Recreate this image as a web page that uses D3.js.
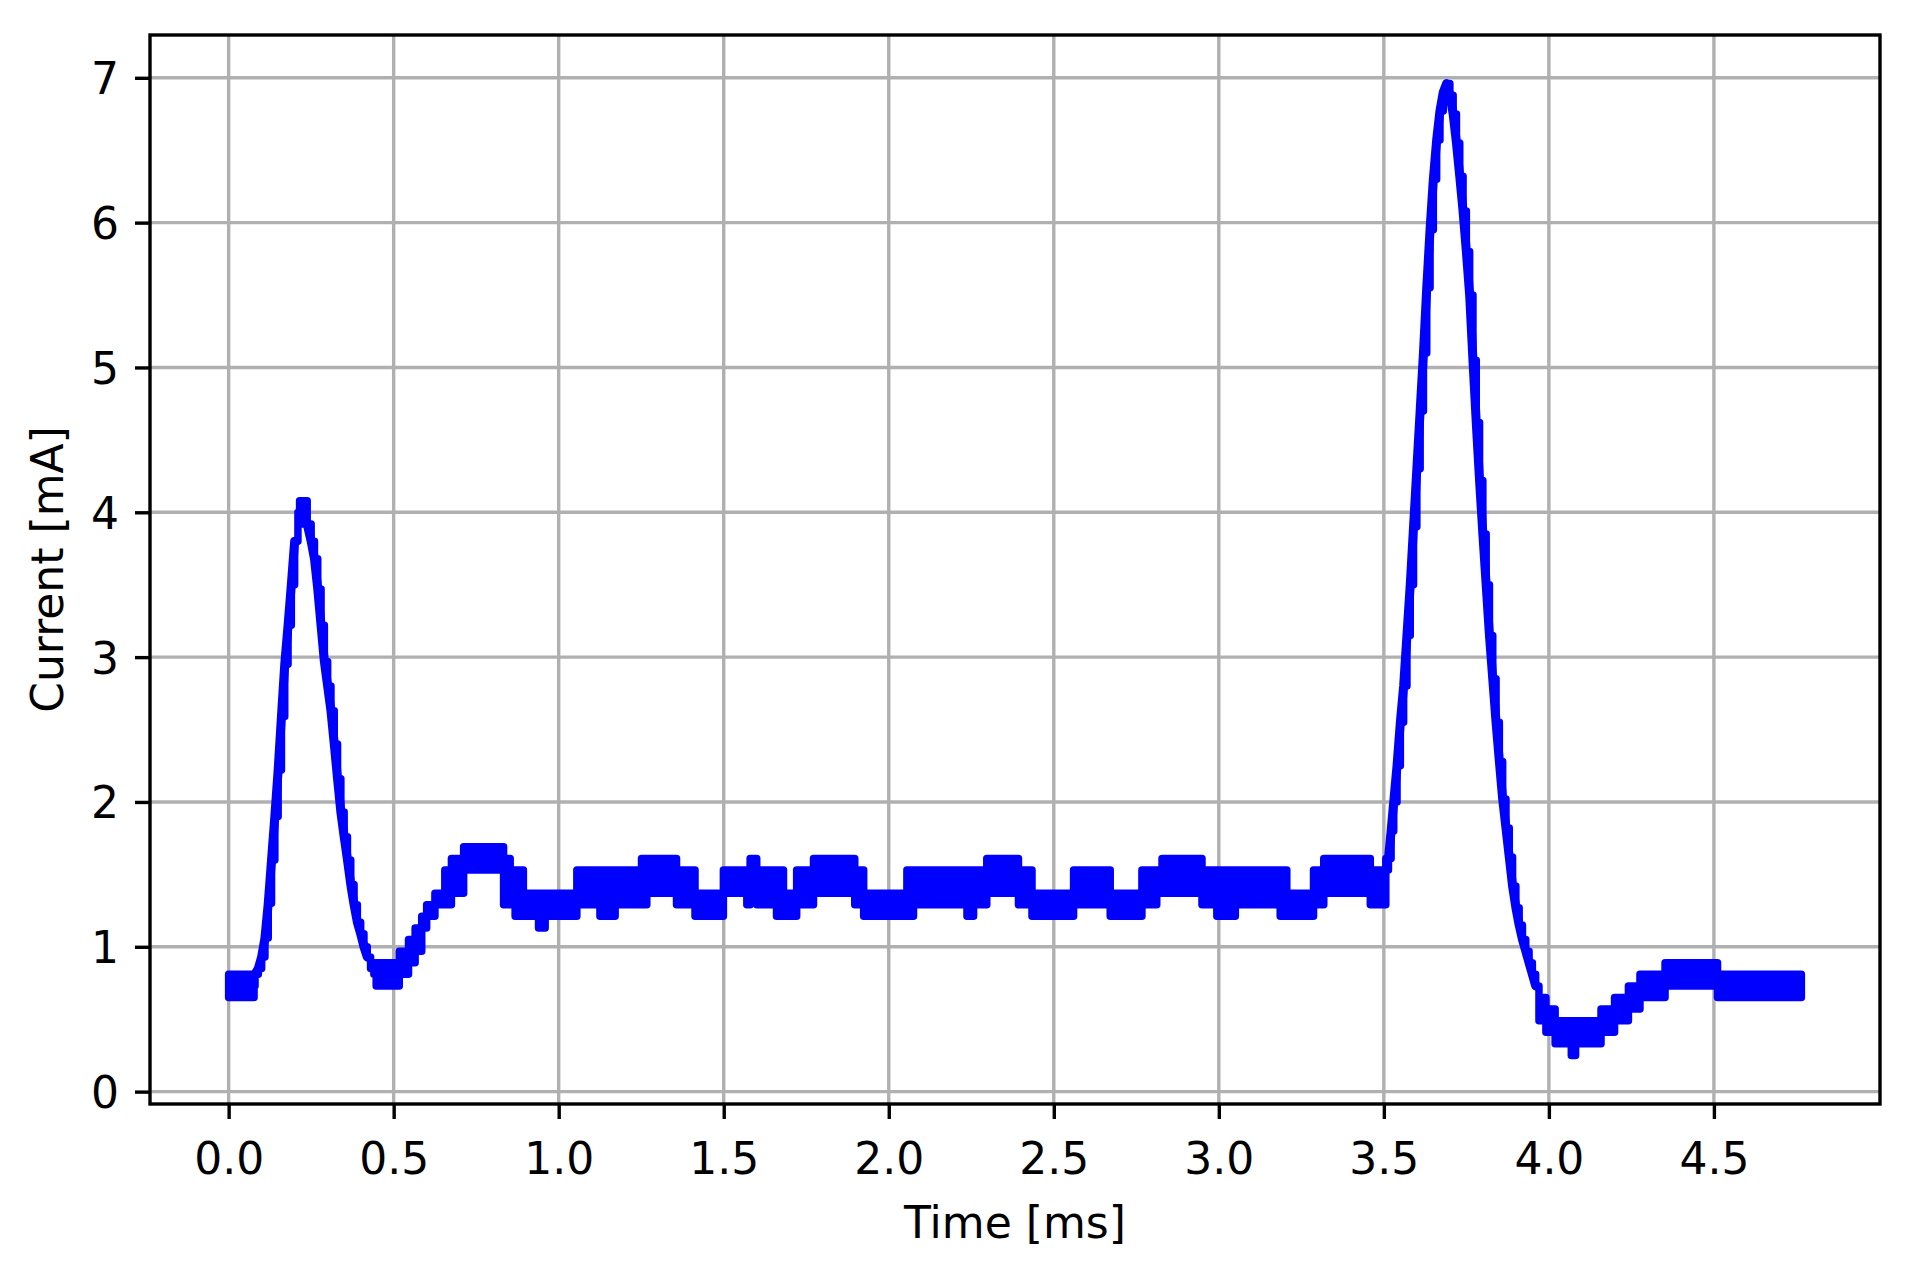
<!DOCTYPE html>
<html>
<head>
<meta charset="utf-8">
<script src="https://cdn.jsdelivr.net/npm/d3@7"></script>
<style>
  html, body { margin: 0; padding: 0; background: #ffffff; }
  svg { display: block; font-family: "DejaVu Sans", sans-serif; }
</style>
</head>
<body>
<svg id="chart" width="1918" height="1261"></svg>
<script>
// ---- Data (time in ms, current envelope in mA) ----
// Each row is the start of a segment; the trace fills the band currentLow..currentHigh
// until the next time value (quantised samples that toggle between ADC levels).
const timeMs = [
  0.000, 0.077, 0.080, 0.090, 0.100, 0.110, 0.120, 0.130, 0.140, 0.150,
  0.160, 0.170, 0.180, 0.190, 0.200, 0.210, 0.215, 0.238, 0.250, 0.260,
  0.270, 0.280, 0.290, 0.300, 0.310, 0.320, 0.330, 0.340, 0.350, 0.360,
  0.370, 0.380, 0.390, 0.400, 0.410, 0.420, 0.430, 0.440, 0.447, 0.517,
  0.545, 0.565, 0.585, 0.600, 0.625, 0.655, 0.675, 0.712, 0.833, 0.853,
  0.868, 0.893, 0.939, 0.959, 1.055, 1.125, 1.171, 1.251, 1.267, 1.357,
  1.413, 1.499, 1.570, 1.580, 1.600, 1.660, 1.681, 1.721, 1.772, 1.897,
  1.924, 2.055, 2.075, 2.237, 2.257, 2.297, 2.393, 2.434, 2.560, 2.671,
  2.767, 2.812, 2.828, 2.949, 2.994, 3.050, 3.186, 3.206, 3.287, 3.318,
  3.459, 3.506, 3.514, 3.522, 3.530, 3.540, 3.550, 3.560, 3.570, 3.580,
  3.590, 3.600, 3.610, 3.620, 3.630, 3.640, 3.650, 3.660, 3.670, 3.680,
  3.690, 3.700, 3.710, 3.720, 3.730, 3.740, 3.750, 3.760, 3.770, 3.780,
  3.790, 3.800, 3.810, 3.820, 3.830, 3.840, 3.850, 3.860, 3.870, 3.880,
  3.890, 3.900, 3.910, 3.920, 3.930, 3.940, 3.950, 3.960, 3.970, 3.991,
  4.019, 4.068, 4.081, 4.158, 4.199, 4.241, 4.276, 4.352, 4.511, 4.765
];
const currentLow = [
  0.65, 0.73, 0.81, 0.85, 0.93, 1.06, 1.30, 1.60, 1.90, 2.22,
  2.59, 2.95, 3.22, 3.50, 3.80, 3.92, 3.92, 3.92, 3.80, 3.68,
  3.47, 3.22, 2.97, 2.80, 2.63, 2.40, 2.16, 1.93, 1.76, 1.60,
  1.43, 1.29, 1.17, 1.09, 1.00, 0.93, 0.85, 0.81, 0.73, 0.81,
  0.89, 0.97, 1.13, 1.21, 1.29, 1.29, 1.37, 1.53, 1.29, 1.29,
  1.21, 1.21, 1.13, 1.21, 1.29, 1.21, 1.29, 1.29, 1.37, 1.29,
  1.21, 1.37, 1.29, 1.37, 1.29, 1.21, 1.21, 1.29, 1.37, 1.29,
  1.21, 1.21, 1.29, 1.21, 1.29, 1.37, 1.29, 1.21, 1.29, 1.21,
  1.29, 1.37, 1.37, 1.29, 1.21, 1.29, 1.21, 1.21, 1.29, 1.37,
  1.29, 1.53, 1.61, 1.80, 2.00, 2.25, 2.55, 2.80, 3.15, 3.50,
  3.90, 4.30, 4.70, 5.10, 5.55, 5.95, 6.30, 6.57, 6.77, 6.90,
  6.96, 6.88, 6.75, 6.55, 6.32, 6.08, 5.80, 5.50, 5.05, 4.62,
  4.22, 3.85, 3.50, 3.15, 2.85, 2.55, 2.28, 2.02, 1.82, 1.62,
  1.42, 1.27, 1.15, 1.05, 0.97, 0.89, 0.81, 0.73, 0.49, 0.41,
  0.33, 0.25, 0.33, 0.41, 0.49, 0.57, 0.65, 0.73, 0.65, 0.65
];
const currentHigh = [
  0.81, 0.81, 0.81, 0.85, 0.93, 1.06, 1.30, 1.60, 1.90, 2.22,
  2.59, 2.95, 3.22, 3.50, 3.80, 4.00, 4.08, 3.92, 3.80, 3.68,
  3.47, 3.22, 2.97, 2.80, 2.63, 2.40, 2.16, 1.93, 1.76, 1.60,
  1.43, 1.29, 1.17, 1.09, 1.00, 0.93, 0.89, 0.89, 0.89, 0.97,
  1.05, 1.13, 1.21, 1.29, 1.37, 1.53, 1.61, 1.69, 1.61, 1.53,
  1.53, 1.37, 1.37, 1.37, 1.53, 1.53, 1.53, 1.61, 1.61, 1.53,
  1.37, 1.53, 1.53, 1.61, 1.53, 1.53, 1.37, 1.53, 1.61, 1.53,
  1.37, 1.53, 1.53, 1.53, 1.53, 1.61, 1.53, 1.37, 1.53, 1.37,
  1.53, 1.53, 1.61, 1.53, 1.53, 1.53, 1.53, 1.37, 1.53, 1.61,
  1.53, 1.61, 1.61, 1.80, 2.00, 2.25, 2.55, 2.80, 3.15, 3.50,
  3.90, 4.30, 4.70, 5.10, 5.55, 5.95, 6.30, 6.57, 6.77, 6.90,
  6.96, 6.88, 6.75, 6.55, 6.32, 6.08, 5.80, 5.50, 5.05, 4.62,
  4.22, 3.85, 3.50, 3.15, 2.85, 2.55, 2.28, 2.02, 1.82, 1.62,
  1.42, 1.27, 1.15, 1.05, 0.97, 0.89, 0.81, 0.73, 0.65, 0.57,
  0.49, 0.49, 0.49, 0.57, 0.65, 0.73, 0.81, 0.89, 0.81, 0.81
];

const xTicks = [0.0, 0.5, 1.0, 1.5, 2.0, 2.5, 3.0, 3.5, 4.0, 4.5];
const xTickLabels = ["0.0", "0.5", "1.0", "1.5", "2.0", "2.5", "3.0", "3.5", "4.0", "4.5"];
const yTicks = [0, 1, 2, 3, 4, 5, 6, 7];
const yTickLabels = ["0", "1", "2", "3", "4", "5", "6", "7"];
const xLabel = "Time [ms]";
const yLabel = "Current [mA]";

// ---- Layout ----
const box = { left: 150, right: 1880, top: 35, bottom: 1104 };
const fontSize = 44;
const lineColor = "#0000ff";
const gridColor = "#b0b0b0";

const svg = d3.select("#chart");

// Scales with matplotlib-like 5% margins
const tExt = d3.extent(timeMs);
const vMin = d3.min(currentLow), vMax = d3.max(currentHigh);
const tPad = 0.05 * (tExt[1] - tExt[0]);
const vPad = 0.05 * (vMax - vMin);
const x = d3.scaleLinear().domain([tExt[0] - tPad, tExt[1] + tPad]).range([box.left, box.right]);
const y = d3.scaleLinear().domain([vMin - vPad, vMax + vPad]).range([box.bottom, box.top]);

// Grid
const grid = svg.append("g").attr("class", "grid");
grid.selectAll("line.gx").data(xTicks).join("line")
  .attr("class", "gx")
  .attr("x1", d => x(d)).attr("x2", d => x(d))
  .attr("y1", box.top).attr("y2", box.bottom)
  .attr("stroke", gridColor).attr("stroke-width", 3.4);
grid.selectAll("line.gy").data(yTicks).join("line")
  .attr("class", "gy")
  .attr("x1", box.left).attr("x2", box.right)
  .attr("y1", d => y(d)).attr("y2", d => y(d))
  .attr("stroke", gridColor).attr("stroke-width", 3.4);

// Trace (envelope band, step-wise)
const idx = d3.range(timeMs.length);
const band = d3.area()
  .x(i => x(timeMs[i]))
  .y0(i => y(currentLow[i]))
  .y1(i => y(currentHigh[i]))
  .curve(d3.curveStepAfter);
svg.append("path")
  .datum(idx)
  .attr("d", band)
  .attr("fill", lineColor)
  .attr("stroke", lineColor)
  .attr("stroke-width", 7.5)
  .attr("stroke-linejoin", "round")
  .attr("stroke-linecap", "round");

// Smooth overlay on the steep single-level parts (the two pulses)
const slope = d3.line()
  .defined(i => currentLow[i] === currentHigh[i])
  .x(i => x(timeMs[i]))
  .y(i => y(currentLow[i]))
  .curve(d3.curveLinear);
svg.append("path")
  .datum(idx)
  .attr("d", slope)
  .attr("fill", "none")
  .attr("stroke", lineColor)
  .attr("stroke-width", 9)
  .attr("stroke-linejoin", "round")
  .attr("stroke-linecap", "round");

// Axes
const xAxis = d3.axisBottom(x)
  .tickValues(xTicks)
  .tickFormat((d, i) => xTickLabels[i])
  .tickSizeInner(15).tickSizeOuter(0).tickPadding(15);
const gx = svg.append("g").attr("transform", `translate(0,${box.bottom})`).call(xAxis);
gx.select(".domain").remove();
gx.selectAll(".tick line").attr("stroke", "#000").attr("stroke-width", 3.4);
gx.selectAll(".tick text")
  .attr("dy", null).attr("y", 70)
  .attr("fill", "#000")
  .style("font-size", fontSize + "px")
  .style("font-family", "'DejaVu Sans', sans-serif");

const yAxis = d3.axisLeft(y)
  .tickValues(yTicks)
  .tickFormat((d, i) => yTickLabels[i])
  .tickSizeInner(15).tickSizeOuter(0).tickPadding(15);
const gy = svg.append("g").attr("transform", `translate(${box.left},0)`).call(yAxis);
gy.select(".domain").remove();
gy.selectAll(".tick line").attr("stroke", "#000").attr("stroke-width", 3.4);
gy.selectAll(".tick text")
  .attr("dy", null).attr("y", 16).attr("x", -31)
  .attr("fill", "#000")
  .style("font-size", fontSize + "px")
  .style("font-family", "'DejaVu Sans', sans-serif");

// Frame
svg.append("rect")
  .attr("x", box.left).attr("y", box.top)
  .attr("width", box.right - box.left).attr("height", box.bottom - box.top)
  .attr("fill", "none").attr("stroke", "#000").attr("stroke-width", 3.4);

// Axis labels
svg.append("text")
  .attr("x", (box.left + box.right) / 2).attr("y", 1238)
  .attr("text-anchor", "middle")
  .style("font-size", fontSize + "px")
  .text(xLabel);
svg.append("text")
  .attr("transform", `translate(63,${(box.top + box.bottom) / 2}) rotate(-90)`)
  .attr("text-anchor", "middle")
  .style("font-size", fontSize + "px")
  .text(yLabel);
</script>
</body>
</html>
